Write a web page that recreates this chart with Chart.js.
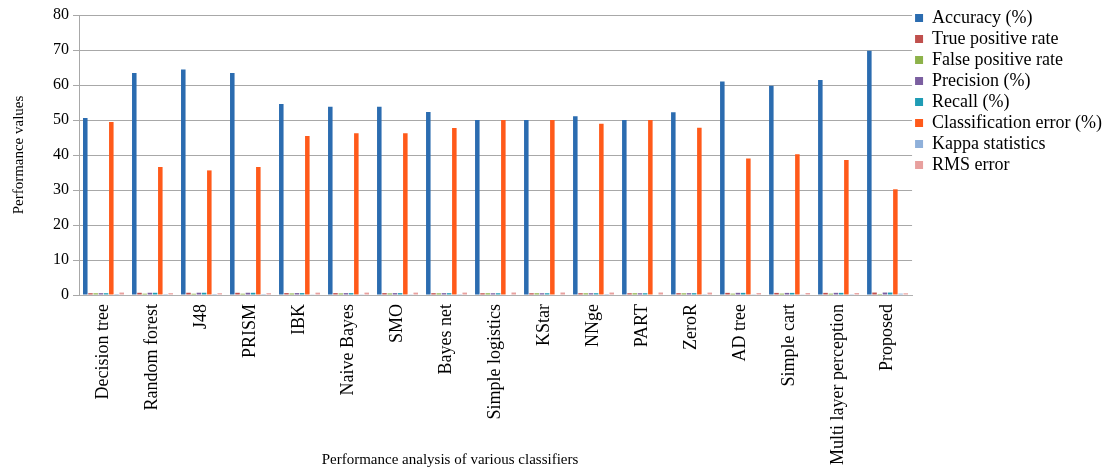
<!DOCTYPE html>
<html>
<head>
<meta charset="utf-8">
<script src="https://cdn.jsdelivr.net/npm/chart.js@4/dist/chart.umd.min.js"></script>
<style>
  html, body { margin: 0; padding: 0; background: #fff; }
  #wrap { width: 1112px; height: 475px; }
</style>
</head>
<body>
<div id="wrap"><canvas id="perfChart"></canvas></div>
<script>
// classifiers on the x axis
const classifiers = ['Decision tree', 'Random forest', 'J48', 'PRISM', 'IBK', 'Naive Bayes', 'SMO',
  'Bayes net', 'Simple logistics', 'KStar', 'NNge', 'PART', 'ZeroR', 'AD tree', 'Simple cart',
  'Multi layer perception', 'Proposed'];

// values
const accuracy = [50.6, 63.4, 64.4, 63.4, 54.6, 53.8, 53.8, 52.3, 50.0, 50.0, 51.1, 50.0, 52.2, 61.0, 59.8, 61.4, 69.8];
const truePositive = [0.51, 0.63, 0.64, 0.63, 0.55, 0.54, 0.54, 0.52, 0.50, 0.50, 0.51, 0.50, 0.52, 0.61, 0.60, 0.61, 0.70];
const falsePositive = [0.49, 0.37, 0.36, 0.37, 0.45, 0.46, 0.46, 0.48, 0.50, 0.50, 0.49, 0.50, 0.48, 0.39, 0.40, 0.39, 0.30];
const precision = [0.52, 0.64, 0.65, 0.64, 0.55, 0.54, 0.54, 0.53, 0.50, 0.50, 0.51, 0.50, 0.52, 0.62, 0.60, 0.62, 0.70];
const recall = [0.51, 0.63, 0.64, 0.63, 0.55, 0.54, 0.54, 0.52, 0.50, 0.50, 0.51, 0.50, 0.52, 0.61, 0.60, 0.61, 0.70];
const classError = [49.4, 36.6, 35.6, 36.6, 45.4, 46.2, 46.2, 47.7, 50.0, 50.0, 48.9, 50.0, 47.8, 39.0, 40.2, 38.6, 30.2];
const kappa = [0.01, 0.27, 0.29, 0.27, 0.09, 0.08, 0.08, 0.05, 0.00, 0.00, 0.02, 0.00, 0.04, 0.22, 0.20, 0.23, 0.40];
const rmsError = [0.70, 0.52, 0.51, 0.52, 0.67, 0.68, 0.68, 0.69, 0.71, 0.71, 0.70, 0.71, 0.69, 0.55, 0.56, 0.55, 0.49];

const yTicks = [0, 10, 20, 30, 40, 50, 60, 70, 80];

const serif = '"Liberation Serif", "Times New Roman", serif';

// x axis title sits inside the label area, so draw it by hand
const xTitlePlugin = {
  id: 'xTitle',
  afterLayout(chart) {
    // legend starts a little higher than the plot top
    chart.legend.top -= 9;
  },
  afterDraw(chart) {
    const ctx = chart.ctx;
    ctx.save();
    ctx.font = '15px ' + serif;
    ctx.fillStyle = '#000';
    ctx.textAlign = 'center';
    ctx.textBaseline = 'middle';
    ctx.fillText('Performance analysis of various classifiers', 450, 460);
    ctx.restore();
  }
};

const series = [
  ['Accuracy (%)', accuracy, '#2B6CB0'],
  ['True positive rate', truePositive, '#C0504D'],
  ['False positive rate', falsePositive, '#8DB24A'],
  ['Precision (%)', precision, '#7B5FA0'],
  ['Recall (%)', recall, '#1F9CB5'],
  ['Classification error (%)', classError, '#FF5A1A'],
  ['Kappa statistics', kappa, '#8FB0DA'],
  ['RMS error', rmsError, '#E8A09E']
];

const perfChart = new Chart(document.getElementById('perfChart'), {
  type: 'bar',
  data: {
    labels: classifiers,
    datasets: series.map(s => ({
      label: s[0],
      data: s[1],
      backgroundColor: s[2],
      borderWidth: 0,
      categoryPercentage: 0.85,
      barPercentage: 0.87
    }))
  },
  plugins: [xTitlePlugin],
  options: {
    responsive: true,
    maintainAspectRatio: false,
    animation: false,
    layout: { padding: { top: 15, left: 10, right: 0, bottom: 0 } },
    plugins: {
      tooltip: { enabled: false },
      legend: {
        position: 'right',
        align: 'start',
        labels: {
          boxWidth: 8,
          boxHeight: 8,
          padding: 3,
          color: '#000',
          font: { family: serif, size: 18 }
        }
      }
    },
    scales: {
      x: {
        afterFit(scale) { scale.height = 180; },
        grid: { display: false, drawTicks: false },
        border: { color: '#B0B0B0' },
        ticks: {
          color: '#000',
          font: { family: serif, size: 18 },
          minRotation: 90,
          maxRotation: 90,
          autoSkip: false,
          padding: 9
        }
      },
      y: {
        min: 0,
        max: 80,
        afterBuildTicks(axis) { axis.ticks = yTicks.map(v => ({ value: v })); },
        grid: { color: '#A8A8A8', tickLength: 6 },
        border: { color: '#A8A8A8' },
        ticks: {
          color: '#000',
          font: { family: serif, size: 16 },
          padding: 4
        },
        title: {
          display: true,
          text: 'Performance values',
          color: '#000',
          font: { family: serif, size: 15 },
          padding: { top: 0, bottom: 21 }
        }
      }
    }
  }
});
</script>
</body>
</html>
